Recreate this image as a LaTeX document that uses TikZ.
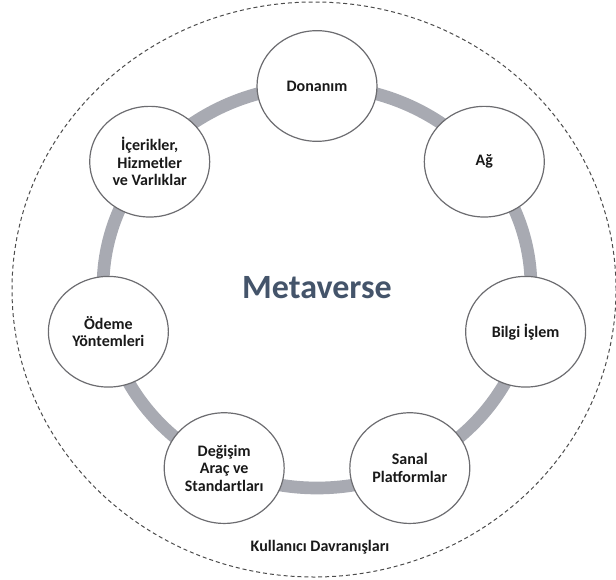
\documentclass[tikz,border=0pt]{standalone}
\usepackage{fontspec}
\setmainfont{Carlito}
\usetikzlibrary{calc, shapes.geometric}
\definecolor{ringgray}{RGB}{168,170,178}
\definecolor{edgegray}{RGB}{108,108,112}
\definecolor{metablue}{RGB}{68,84,106}
\tikzset{
    part/.style={ellipse, draw=edgegray, line width=0.9pt, fill=white,
        minimum width=90pt, minimum height=83pt, inner sep=0pt, align=center,
        font=\fontsize{12}{13.2}\selectfont\bfseries, text=black!90},
    ring/.style={draw=ringgray, line width=9.5pt},
    outer/.style={draw=black!70, line width=0.75pt, dash pattern=on 3pt off 2.2pt},
}
\begin{document}
\begin{tikzpicture}[x=0.75pt, y=0.75pt]
    \useasboundingbox (0,0) rectangle (616,579);

    \coordinate (hub) at (317,292);
    \coordinate (edge) at (314,289.5);

    % dashed outer border
    \draw[outer] (edge) ellipse [x radius=302, y radius=287.5];
    % grey ring behind the parts
    \draw[ring] (hub) ellipse [x radius=214, y radius=201];

    \node[text=metablue, font=\fontsize{25.5}{30}\selectfont\bfseries] (meta) at ($(hub)+(0,-1)$) {Metaverse};

    \node[part] (donanim) at ($(hub)+(90:214 and 201)$) {Donanım};
    \node[part] (ag) at ($(hub)+(38.57:214 and 201)$) {Ağ};
    \node[part] (bilgi) at ($(hub)+(-12.86:214 and 201)$) {Bilgi İşlem};
    \node[part] (sanal) at ($(hub)+(-64.29:214 and 201)$) {Sanal\\Platformlar};
    \node[part] (degisim) at ($(hub)+(-115.71:214 and 201)$) {Değişim\\Araç ve\\Standartları};
    \node[part] (odeme) at ($(hub)+(-167.14:214 and 201)$) {Ödeme\\Yöntemleri};
    \node[part] (icerik) at ($(hub)+(141.43:214 and 201)$) {İçerikler,\\Hizmetler\\ve Varlıklar};

    \node[font=\fontsize{12}{13.2}\selectfont\bfseries, text=black!90] (users) at (320,32) {Kullanıcı Davranışları};
\end{tikzpicture}
\end{document}
